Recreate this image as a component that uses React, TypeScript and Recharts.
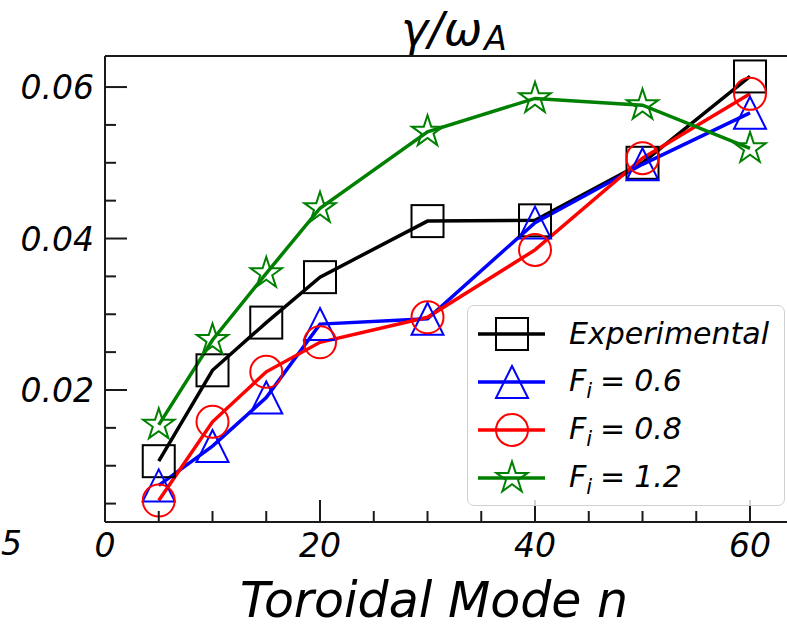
import { LineChart, Line, XAxis, YAxis, ReferenceLine, Legend } from 'recharts';

// toroidal mode numbers and growth rates gamma / omega_A
const modes = [5, 10, 15, 20, 30, 40, 50, 60];
const experimental = [0.0106, 0.0226, 0.0289, 0.0349, 0.0423, 0.0424, 0.05, 0.0614];
const fi06 = [0.0074, 0.0126, 0.019, 0.0287, 0.0294, 0.0421, 0.0498, 0.0566];
const fi08 = [0.0054, 0.0158, 0.0224, 0.0263, 0.0296, 0.0385, 0.0506, 0.0591];
const fi12 = [0.0154, 0.0266, 0.0354, 0.044, 0.0541, 0.0585, 0.0576, 0.0519];

const xTicks = [0, 5, 10, 15, 20, 25, 30, 35, 40, 45, 50, 55, 60];
const yTicks = [0.005, 0.01, 0.015, 0.02, 0.025, 0.03, 0.035, 0.04, 0.045, 0.05, 0.055, 0.06];
const X_MAX = 63.44;
const Y_MIN = 0.00257;
const Y_MAX = 0.0641;

const data = modes.map((n, i) => ({
  n,
  exp: experimental[i],
  f06: fi06[i],
  f08: fi08[i],
  f12: fi12[i],
}));

const series = [
  { key: 'exp', label: 'Experimental', fi: '', color: '#000000', marker: 'square' },
  { key: 'f06', label: 'F_i = 0.6', fi: '0.6', color: '#0000ff', marker: 'triangle' },
  { key: 'f08', label: 'F_i = 0.8', fi: '0.8', color: '#ff0000', marker: 'circle' },
  { key: 'f12', label: 'F_i = 1.2', fi: '1.2', color: '#008000', marker: 'star' },
];

const FRAME = '#1a1a1a';
const FONT = "'DejaVu Sans', sans-serif";

const starPoints = (cx: number, cy: number, r: number) => {
  const pts: string[] = [];
  for (let k = 0; k < 10; k++) {
    const rad = k % 2 === 0 ? r : r * 0.381966;
    const a = -Math.PI / 2 + (k * Math.PI) / 5;
    pts.push(`${cx + rad * Math.cos(a)},${cy + rad * Math.sin(a)}`);
  }
  return pts.join(' ');
};

const Marker = ({ type, cx, cy, color }: any) => {
  const r = 16;
  if (type === 'square')
    return <rect x={cx - r} y={cy - r} width={2 * r} height={2 * r} fill="none" stroke={color} strokeWidth={2} />;
  if (type === 'circle') return <circle cx={cx} cy={cy} r={r} fill="none" stroke={color} strokeWidth={2} />;
  if (type === 'triangle')
    return (
      <polygon
        points={`${cx},${cy - r} ${cx - r},${cy + r} ${cx + r},${cy + r}`}
        fill="none"
        stroke={color}
        strokeWidth={2}
      />
    );
  return <polygon points={starPoints(cx, cy, 16.5)} fill="none" stroke={color} strokeWidth={2} />;
};

const dotFor = (type: string, color: string) => (props: any) => {
  const { cx, cy, index } = props;
  return (
    <g key={`${type}-${index}`}>
      <Marker type={type} cx={cx} cy={cy} color={color} />
    </g>
  );
};

const XTick = ({ x, y, payload }: any) => {
  const major = payload.value % 20 === 0;
  return (
    <g>
      <line x1={x} x2={x} y1={y} y2={y - (major ? 22 : 11)} stroke={FRAME} strokeWidth={2} />
      {major && (
        <text x={x} y={y + 35} textAnchor="middle" fontFamily={FONT} fontStyle="italic" fontSize={33} fill="#000">
          {payload.value}
        </text>
      )}
    </g>
  );
};

const YTick = ({ x, y, payload }: any) => {
  const q = payload.value / 0.02;
  const major = Math.abs(q - Math.round(q)) < 1e-6;
  return (
    <g>
      <line x1={x} x2={x + (major ? 22 : 11)} y1={y} y2={y} stroke={FRAME} strokeWidth={2} />
      {major && (
        <text x={x - 11} y={y + 12} textAnchor="end" fontFamily={FONT} fontStyle="italic" fontSize={33} fill="#000">
          {payload.value.toFixed(2)}
        </text>
      )}
    </g>
  );
};

const LegendBox = ({ payload }: any) => (
  <div
    style={{
      boxSizing: 'border-box',
      width: 318,
      height: 201,
      paddingTop: 4,
      border: '1.5px solid #d0d0d0',
      borderRadius: 7,
      background: 'rgba(255,255,255,0.8)',
      fontFamily: FONT,
      fontStyle: 'italic',
      fontSize: 30,
      color: '#000',
    }}
  >
    {(payload || []).map((item: any) => {
      const s = series.find((d) => d.key === item.dataKey) || series[0];
      return (
        <div key={s.key} style={{ display: 'flex', alignItems: 'center', height: 48 }}>
          <svg width={101} height={48} style={{ flex: 'none' }}>
            <line x1={10} x2={77} y1={24} y2={24} stroke={s.color} strokeWidth={3.5} />
            <Marker type={s.marker} cx={44} cy={24} color={s.color} />
          </svg>
          {s.fi ? (
            <span style={{ whiteSpace: 'nowrap', lineHeight: '48px' }}>
              F
              <span style={{ fontSize: 21, position: 'relative', top: 7 }}>i</span>
              <span style={{ margin: '0 9px 0 8px' }}>=</span>
              {s.fi}
            </span>
          ) : (
            <span style={{ whiteSpace: 'nowrap', lineHeight: '48px' }}>{s.label}</span>
          )}
        </div>
      );
    })}
  </div>
);

export default function App() {
  return (
    <div style={{ position: 'absolute', left: 0, top: 0, width: 787, height: 628, background: '#fff' }}>
      <LineChart width={787} height={628} data={data} margin={{ top: 56, right: 0, left: 104, bottom: 105 }}>
        <XAxis
          dataKey="n"
          type="number"
          domain={[0, X_MAX]}
          ticks={xTicks}
          interval={0}
          allowDataOverflow
          height={1}
          tickSize={0}
          tickMargin={0}
          tickLine={false}
          tick={<XTick />}
          axisLine={{ stroke: FRAME, strokeWidth: 2 }}
        />
        <YAxis
          type="number"
          domain={[Y_MIN, Y_MAX]}
          ticks={yTicks}
          interval={0}
          allowDataOverflow
          width={1}
          tickSize={0}
          tickMargin={0}
          tickLine={false}
          tick={<YTick />}
          axisLine={{ stroke: FRAME, strokeWidth: 2 }}
        />
        <ReferenceLine y={Y_MAX} stroke={FRAME} strokeWidth={2} />
        {series.map((s) => (
          <Line
            key={s.key}
            dataKey={s.key}
            name={s.label}
            type="linear"
            stroke={s.color}
            strokeWidth={3.5}
            dot={dotFor(s.marker, s.color)}
            activeDot={false}
            isAnimationActive={false}
          />
        ))}
        <Legend
          content={<LegendBox />}
          layout="horizontal"
          verticalAlign="middle"
          align="center"
          wrapperStyle={{ left: 467, top: 305, width: 318, height: 201 }}
        />
      </LineChart>
      <svg
        width={787}
        height={628}
        style={{ position: 'absolute', left: 0, top: 0, pointerEvents: 'none' }}
      >
        <text x={401} y={45} fontFamily={FONT} fontStyle="italic" fontSize={46} fill="#000">
          γ/ω
          <tspan fontSize={33} dy={5} dx={2}>
            A
          </tspan>
        </text>
        <text x={240} y={617} fontFamily={FONT} fontStyle="italic" fontSize={49} fill="#000">
          Toroidal Mode n
        </text>
        <text x={1} y={555} fontFamily={FONT} fontStyle="italic" fontSize={33} fill="#000">
          5
        </text>
      </svg>
    </div>
  );
}
